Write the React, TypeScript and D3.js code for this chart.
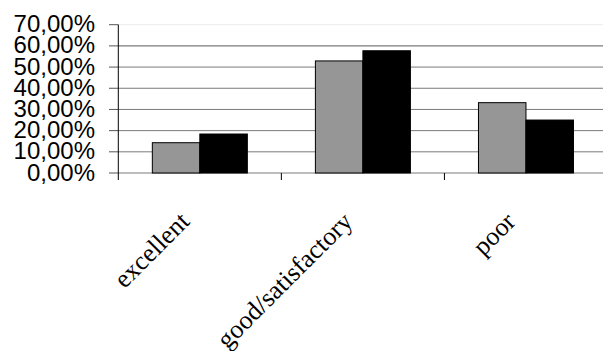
import React from "react";
import * as d3 from "d3";

const categories = ["excellent", "good/satisfactory", "poor"];
const seriesNames = ["series1", "series2"];
const series1 = [0.143, 0.529, 0.332];
const series2 = [0.184, 0.577, 0.25];
const yTicks = [0, 0.1, 0.2, 0.3, 0.4, 0.5, 0.6, 0.7];

const W = 603;
const H = 351;

export default function App() {
  const x = d3.scaleBand<string>().domain(categories).range([118.3, 607.5]).padding(0);
  const y = d3.scaleLinear().domain([0, 0.7]).range([173, 24.7]);
  const bw = x.bandwidth();
  const groupW = 95;
  const xs = d3
    .scaleBand<string>()
    .domain(seriesNames)
    .range([(bw - groupW) / 2, (bw + groupW) / 2])
    .padding(0);
  const fmt = (v: number) => (v * 100).toFixed(2).replace(".", ",") + "%";
  const fills = ["#969696", "#000000"];
  const values = [series1, series2];
  const x0 = x.range()[0];

  return (
    <svg
      width={W}
      height={H}
      style={{ position: "absolute", left: 0, top: 0, background: "#fff" }}
    >
      {/* grid lines */}
      {yTicks.map((t) => (
        <line
          key={"g" + t}
          x1={x0}
          x2={W}
          y1={y(t)}
          y2={y(t)}
          stroke={t === 0.7 ? "#ececec" : "#7a7a7a"}
          strokeWidth={t === 0.6 ? 1.4 : 1}
        />
      ))}
      {/* y tick marks */}
      {yTicks.map((t) => (
        <line key={"t" + t} x1={109} x2={x0} y1={y(t)} y2={y(t)} stroke="#555" />
      ))}
      {/* y labels */}
      {yTicks.map((t) => (
        <text
          key={"l" + t}
          x={95}
          y={y(t) + 7.5}
          textAnchor="end"
          fontFamily="'Liberation Sans', Arial, sans-serif"
          fontSize={24}
          fill="#000"
        >
          {fmt(t)}
        </text>
      ))}
      {/* bars */}
      {categories.map((c, i) =>
        seriesNames.map((s, j) => (
          <rect
            key={c + s}
            x={(x(c) as number) + (xs(s) as number)}
            y={y(values[j][i])}
            width={xs.bandwidth()}
            height={y(0) - y(values[j][i])}
            fill={fills[j]}
            stroke="#000"
            strokeWidth={1}
          />
        ))
      )}
      {/* y axis */}
      <line x1={x0} x2={x0} y1={y(0.7)} y2={180} stroke="#000" />
      {/* category ticks */}
      {categories.slice(1).map((c) => (
        <line key={"ct" + c} x1={x(c)} x2={x(c)} y1={y(0)} y2={180} stroke="#000" />
      ))}
      {/* category labels */}
      {categories.map((c) => {
        const cx = (x(c) as number) + bw / 2 - 9;
        const cy = 223;
        return (
          <text
            key={"cl" + c}
            x={cx}
            y={cy}
            textAnchor="end"
            transform={`rotate(-45 ${cx} ${cy})`}
            fontFamily="'Liberation Serif', 'Times New Roman', serif"
            fontSize={26}
            fill="#000"
          >
            {c}
          </text>
        );
      })}
    </svg>
  );
}
